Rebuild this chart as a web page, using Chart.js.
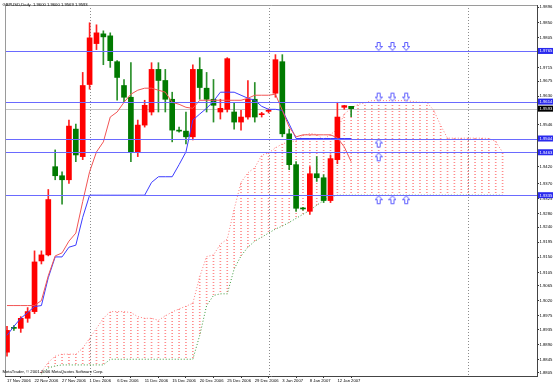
<!DOCTYPE html>
<html><head><meta charset="utf-8">
<script src="https://cdn.jsdelivr.net/npm/chart.js@4/dist/chart.umd.min.js"></script>
<style>html,body{margin:0;padding:0;background:#fff;}canvas{display:block;}</style>
</head><body>
<canvas id="c" width="553" height="383"></canvas>
<script>
// ---------- text ----------
const symbolTitle = 'GBPUSD,Daily  1.9600 1.9600 1.9569 1.9593';
const copyright = 'MetaTrader, \u00a9 2001-2006 MetaQuotes Software Corp.';

// ---------- axis ticks ----------
const xTickIdx = [0,4,8,12,16,20,24,28,32,36,40,44,48];
const xTickLabels = ['17 Nov 2006','22 Nov 2006','27 Nov 2006','1 Dec 2006','6 Dec 2006','11 Dec 2006','15 Dec 2006','20 Dec 2006','25 Dec 2006','29 Dec 2006','3 Jan 2007','8 Jan 2007','12 Jan 2007'];
const yTickValues = [1.9896,1.9850,1.9805,1.9715,1.9675,1.9630,1.9546,1.9420,1.9370,1.9325,1.9280,1.9240,1.9195,1.9150,1.9105,1.9065,1.9020,1.8975,1.8935,1.8890,1.8845,1.8805];
const yTickLabels = ['1.9896','1.9850','1.9805','1.9715','1.9675','1.9630','1.9546','1.9420','1.9370','1.9325','1.9280','1.9240','1.9195','1.9150','1.9105','1.9065','1.9020','1.8975','1.8935','1.8890','1.8845','1.8805'];

// ---------- candles (bar index 0 = 17 Nov 2006) ----------
const openP  = [1.8867,1.8940,1.8938,1.8968,1.8988,1.9139,1.9157,1.9420,1.9393,1.9381,1.9532,1.9450,1.9665,1.9787,1.9816,1.9810,1.9733,1.9662,1.9627,1.9464,1.9544,1.9583,1.9710,1.9677,1.9621,1.9529,1.9526,1.9509,1.9710,1.9654,1.9621,1.9583,1.9591,1.9583,1.9553,1.9568,1.9621,1.9575,1.9585,1.9639,1.9733,1.9518,1.9426,1.9296,1.9287,1.9399,1.9387,1.9319,1.9441,1.9597,1.9600];
const highP  = [1.8944,1.8946,1.8973,1.9000,1.9169,1.9169,1.9352,1.9470,1.9405,1.9559,1.9547,1.9701,1.9849,1.9843,1.9825,1.9819,1.9736,1.9680,1.9730,1.9559,1.9618,1.9730,1.9730,1.9710,1.9642,1.9538,1.9583,1.9724,1.9745,1.9701,1.9680,1.9621,1.9745,1.9612,1.9588,1.9677,1.9671,1.9582,1.9592,1.9754,1.9754,1.9532,1.9435,1.9299,1.9420,1.9450,1.9396,1.9455,1.9612,1.9603,1.9600];
const lowP   = [1.8855,1.8932,1.8926,1.8956,1.8982,1.9130,1.9154,1.9381,1.9308,1.9370,1.9435,1.9441,1.9651,1.9769,1.9724,1.9716,1.9618,1.9612,1.9435,1.9450,1.9538,1.9574,1.9583,1.9583,1.9494,1.9523,1.9488,1.9500,1.9621,1.9583,1.9553,1.9562,1.9583,1.9532,1.9529,1.9562,1.9553,1.9568,1.9580,1.9627,1.9509,1.9411,1.9287,1.9290,1.9278,1.9376,1.9313,1.9313,1.9429,1.9591,1.9569];
const closeP = [1.8932,1.8938,1.8968,1.8988,1.9136,1.9157,1.9322,1.9393,1.9381,1.9541,1.9455,1.9662,1.9804,1.9819,1.9807,1.9736,1.9686,1.9627,1.9464,1.9544,1.9603,1.9710,1.9677,1.9621,1.9529,1.9526,1.9509,1.9710,1.9656,1.9621,1.9603,1.9594,1.9742,1.9553,1.9568,1.9621,1.9568,1.9578,1.9588,1.9739,1.9518,1.9426,1.9296,1.9294,1.9399,1.9387,1.9319,1.9444,1.9568,1.9602,1.9593];

// ---------- Ichimoku lines ----------
const tenkan = [1.9006,1.9006,1.9006,1.9006,1.9006,1.9021,1.9095,1.9154,1.9163,1.9198,1.9222,1.9316,1.9405,1.9464,1.9494,1.9568,1.9583,1.9612,1.9636,1.9648,1.9654,1.9654,1.9648,1.9642,1.9612,1.9606,1.9597,1.9594,1.9618,1.9618,1.9618,1.9618,1.9618,1.9618,1.9618,1.9624,1.9633,1.9633,1.9633,1.9636,1.9588,1.9538,1.9509,1.9515,1.9515,1.9515,1.9515,1.9515,1.9506,1.9479,1.9435];
const kijun  = [1.8917,1.8944,1.8968,1.8985,1.9003,1.9006,1.9089,1.9151,1.9151,1.9180,1.9186,1.9269,1.9335,1.9335,1.9335,1.9335,1.9335,1.9335,1.9335,1.9335,1.9335,1.9373,1.9390,1.9390,1.9390,1.9426,1.9464,1.9559,1.9577,1.9594,1.9615,1.9642,1.9642,1.9642,1.9633,1.9624,1.9618,1.9600,1.9591,1.9591,1.9588,1.9547,1.9504,1.9504,1.9504,1.9504,1.9504,1.9504,1.9504,1.9504,1.9504];
const senkouA = [null,null,null,null,null,1.8808,1.8837,1.8855,1.8861,1.8861,1.8861,1.8879,1.8908,1.8938,1.8968,1.8988,1.8988,1.8988,1.8985,1.8973,1.8968,1.8968,1.8962,1.8975,1.8987,1.8996,1.9004,1.9013,1.9092,1.9152,1.9157,1.9189,1.9204,1.9293,1.9373,1.9402,1.9417,1.9454,1.9461,1.9476,1.9488,1.9494,1.9497,1.9513,1.9519,1.9516,1.9501,1.9516,1.9531,1.9577,1.9594,1.9606,1.9610,1.9617,1.9617,1.9617,1.9617,1.9617,1.9617,1.9614,1.9612,1.9612,1.9588,1.9543,1.9505,1.9505,1.9505,1.9505,1.9505,1.9505,1.9504,1.9495,1.9463];
const senkouB = [null,null,null,null,null,1.8802,1.8820,1.8826,1.8829,1.8829,1.8829,1.8829,1.8829,1.8829,1.8829,1.8846,1.8846,1.8846,1.8846,1.8846,1.8846,1.8846,1.8846,1.8846,1.8846,1.8846,1.8846,1.8846,1.8917,1.9006,1.9036,1.9041,1.9041,1.9115,1.9154,1.9180,1.9198,1.9210,1.9222,1.9234,1.9243,1.9254,1.9266,1.9278,1.9290,1.9305,1.9319,1.9331,1.9335,1.9335,1.9335,1.9335,1.9335,1.9335,1.9335,1.9335,1.9335,1.9335,1.9335,1.9335,1.9335,1.9335,1.9335,1.9335,1.9335,1.9335,1.9335,1.9335,1.9335,1.9335,1.9335,1.9335,1.9335];

// ---------- drawn objects ----------
const levels = [1.9765,1.9614,1.9504,1.9463,1.9335];
const levelLabels = ['1.9765','1.9614','1.9504','1.9463','1.9335'];
const bidPrice = 1.9593;
const bidLabel = '1.9593';
const separatorIdx = [12,38,67];
const arrowDownIdx = [54,56,58,54,56,58];
const arrowDownLvl = [1.9765,1.9765,1.9765,1.9614,1.9614,1.9614];
const arrowUpIdx = [54,54,54,56,58];
const arrowUpLvl = [1.9504,1.9463,1.9335,1.9335,1.9335];

// ---------- helpers ----------
const FONT = '"Liberation Sans", Arial, sans-serif';
Chart.defaults.font.family = FONT;
Chart.defaults.font.size = 4.2;
Chart.defaults.color = '#000';

const canvas = document.getElementById('c');
const ctx0 = canvas.getContext('2d');
function dotPattern(color){
  const c = document.createElement('canvas'); c.width = 1; c.height = 3;
  const g = c.getContext('2d'); g.fillStyle = color; g.fillRect(0,0,1,1);
  return ctx0.createPattern(c,'repeat');
}
function makeArrow(up){
  const c = document.createElement('canvas'); c.width = 8; c.height = 20;
  const g = c.getContext('2d');
  g.beginPath();
  if(!up){ g.moveTo(2.5,1.5); g.lineTo(5.5,1.5); g.lineTo(5.5,5.5); g.lineTo(7.5,5.5); g.lineTo(4,9.5); g.lineTo(0.5,5.5); g.lineTo(2.5,5.5); }
  else   { g.moveTo(4,10.5); g.lineTo(7.5,14.5); g.lineTo(5.5,14.5); g.lineTo(5.5,18.5); g.lineTo(2.5,18.5); g.lineTo(2.5,14.5); g.lineTo(0.5,14.5); }
  g.closePath(); g.fillStyle = '#fff'; g.fill(); g.strokeStyle = '#5a5aff'; g.lineWidth = 1; g.stroke();
  return c;
}

const bullBodies=[], bearBodies=[], bullWicks=[], bearWicks=[];
openP.forEach((o,i)=>{
  const c = closeP[i];
  if(c >= o){ bullBodies.push({x:i,y:[o,c]}); bullWicks.push({x:i,y:[lowP[i],highP[i]]}); }
  else { bearBodies.push({x:i,y:[c,o]}); bearWicks.push({x:i,y:[lowP[i],highP[i]]}); }
});
const hatch = [];
senkouA.forEach((a,j)=>{ const b = senkouB[j]; if(a!==null && b!==null) hatch.push({x:j,y:[Math.min(a,b),Math.max(a,b)]}); });
const toXY = arr => arr.map((v,i)=>({x:i,y:v}));

const overlay = {
  id:'overlay',
  beforeDatasetsDraw(chart){
    const {ctx, chartArea:a, scales:{x,y}} = chart;
    ctx.save();
    ctx.strokeStyle = '#8c8c8c'; ctx.lineWidth = 1; ctx.setLineDash([1,2]);
    separatorIdx.forEach(i=>{ const px = Math.round(x.getPixelForValue(i))+0.5; ctx.beginPath(); ctx.moveTo(px,a.top); ctx.lineTo(px,a.bottom); ctx.stroke(); });
    ctx.setLineDash([]);
    const by = Math.round(y.getPixelForValue(bidPrice))+0.5;
    ctx.strokeStyle = '#c4c4c4'; ctx.beginPath(); ctx.moveTo(a.left,by); ctx.lineTo(a.right,by); ctx.stroke();
    ctx.restore();
  },
  afterDatasetsDraw(chart){
    const {ctx, chartArea:a, scales:{y}} = chart;
    ctx.save();
    ctx.strokeStyle = '#6a6aff'; ctx.lineWidth = 1;
    levels.forEach(lv=>{ const py = Math.round(y.getPixelForValue(lv))+0.5; ctx.beginPath(); ctx.moveTo(a.left,py); ctx.lineTo(a.right,py); ctx.stroke(); });
    ctx.restore();
  },
  afterDraw(chart){
    const {ctx, chartArea:a, scales:{y}} = chart;
    ctx.save();
    ctx.strokeStyle = '#9a9a9a'; ctx.lineWidth = 1;
    ctx.beginPath(); ctx.moveTo(a.left+0.5,a.bottom); ctx.lineTo(a.left+0.5,a.top+0.5); ctx.lineTo(a.right,a.top+0.5); ctx.stroke();
    ctx.font = '4.2px ' + FONT; ctx.fillStyle = '#000'; ctx.textBaseline = 'middle'; ctx.textAlign = 'left';
    ctx.fillText(symbolTitle, 2.5, 5);
    ctx.fillText(copyright, 2.5, 372);
    const W = chart.width;
    levels.forEach((lv,k)=>{
      const py = y.getPixelForValue(lv);
      ctx.fillStyle = '#2a2aee'; ctx.fillRect(a.right+1, py-3, W-a.right-1, 6);
      ctx.fillStyle = '#fff'; ctx.fillText(levelLabels[k], a.right+2.5, py+0.2);
    });
    const by = y.getPixelForValue(bidPrice);
    ctx.fillStyle = '#000'; ctx.fillRect(a.right+1, by-3, W-a.right-1, 6);
    ctx.fillStyle = '#fff'; ctx.fillText(bidLabel, a.right+2.5, by+0.2);
    ctx.restore();
  }
};

new Chart(canvas, {
  type: 'line',
  data: { datasets: [
    { type:'scatter', data: arrowDownIdx.map((j,k)=>({x:j,y:arrowDownLvl[k]})), pointStyle: makeArrow(false), pointRadius:3, order:0 },
    { type:'scatter', data: arrowUpIdx.map((j,k)=>({x:j,y:arrowUpLvl[k]})), pointStyle: makeArrow(true), pointRadius:3, order:0 },
    { label:'Tenkan', data: toXY(tenkan), borderColor:'#f25555', borderWidth:1, pointRadius:0, tension:0, order:1 },
    { label:'Kijun', data: toXY(kijun), borderColor:'#3c3cff', borderWidth:1, pointRadius:0, tension:0, order:1 },
    { type:'bar', data: bullBodies, backgroundColor:'#ff0000', barThickness:5, grouped:false, minBarLength:1, borderWidth:0, order:2 },
    { type:'bar', data: bearBodies, backgroundColor:'#007a00', barThickness:5, grouped:false, minBarLength:1, borderWidth:0, order:2 },
    { type:'bar', data: bullWicks, backgroundColor:'#ff2020', barThickness:1, grouped:false, minBarLength:1, borderWidth:0, order:3 },
    { type:'bar', data: bearWicks, backgroundColor:'#2a8f2a', barThickness:1, grouped:false, minBarLength:1, borderWidth:0, order:3 },
    { label:'Senkou A', data: toXY(senkouA), borderColor:'#ff7a7a', borderWidth:1, borderDash:[1,2], pointRadius:0, tension:0, spanGaps:false, order:5 },
    { label:'Senkou B', data: toXY(senkouB), borderColor:'#3a9a3a', borderWidth:1, borderDash:[1,2], pointRadius:0, tension:0, spanGaps:false, order:5 },
    { type:'bar', data: hatch, backgroundColor: dotPattern('#ff8c8c'), barThickness:1, grouped:false, borderWidth:0, order:6 }
  ]},
  options: {
    responsive:false, devicePixelRatio:1, animation:false,
    layout:{ padding:{ left:1, top:2, right:0, bottom:0 } },
    plugins:{ legend:{display:false}, tooltip:{enabled:false}, title:{display:false} },
    scales:{
      x:{ type:'linear', min:-0.29, max:77.0, offset:false,
          afterBuildTicks: s => { s.ticks = xTickIdx.map(v=>({value:v})); },
          afterFit: s => { s.height = 7; },
          grid:{ drawOnChartArea:false, drawTicks:true, tickLength:2, tickColor:'#333' },
          border:{ display:true, color:'#444' },
          ticks:{ autoSkip:false, maxRotation:0, minRotation:0, align:'start', padding:0, color:'#000', font:{size:4.2},
                  callback:(v,i)=>xTickLabels[i] } },
      y:{ type:'linear', position:'right', min:1.8796, max:1.9902,
          afterBuildTicks: s => { s.ticks = yTickValues.map(v=>({value:v})); },
          afterFit: s => { s.width = 16; },
          grid:{ drawOnChartArea:false, drawTicks:true, tickLength:2, tickColor:'#333' },
          border:{ display:true, color:'#444' },
          ticks:{ autoSkip:false, padding:0.5, color:'#000', font:{size:4.2},
                  callback:(v,i)=>yTickLabels[i] } }
    }
  },
  plugins:[overlay]
});
</script>
</body></html>
